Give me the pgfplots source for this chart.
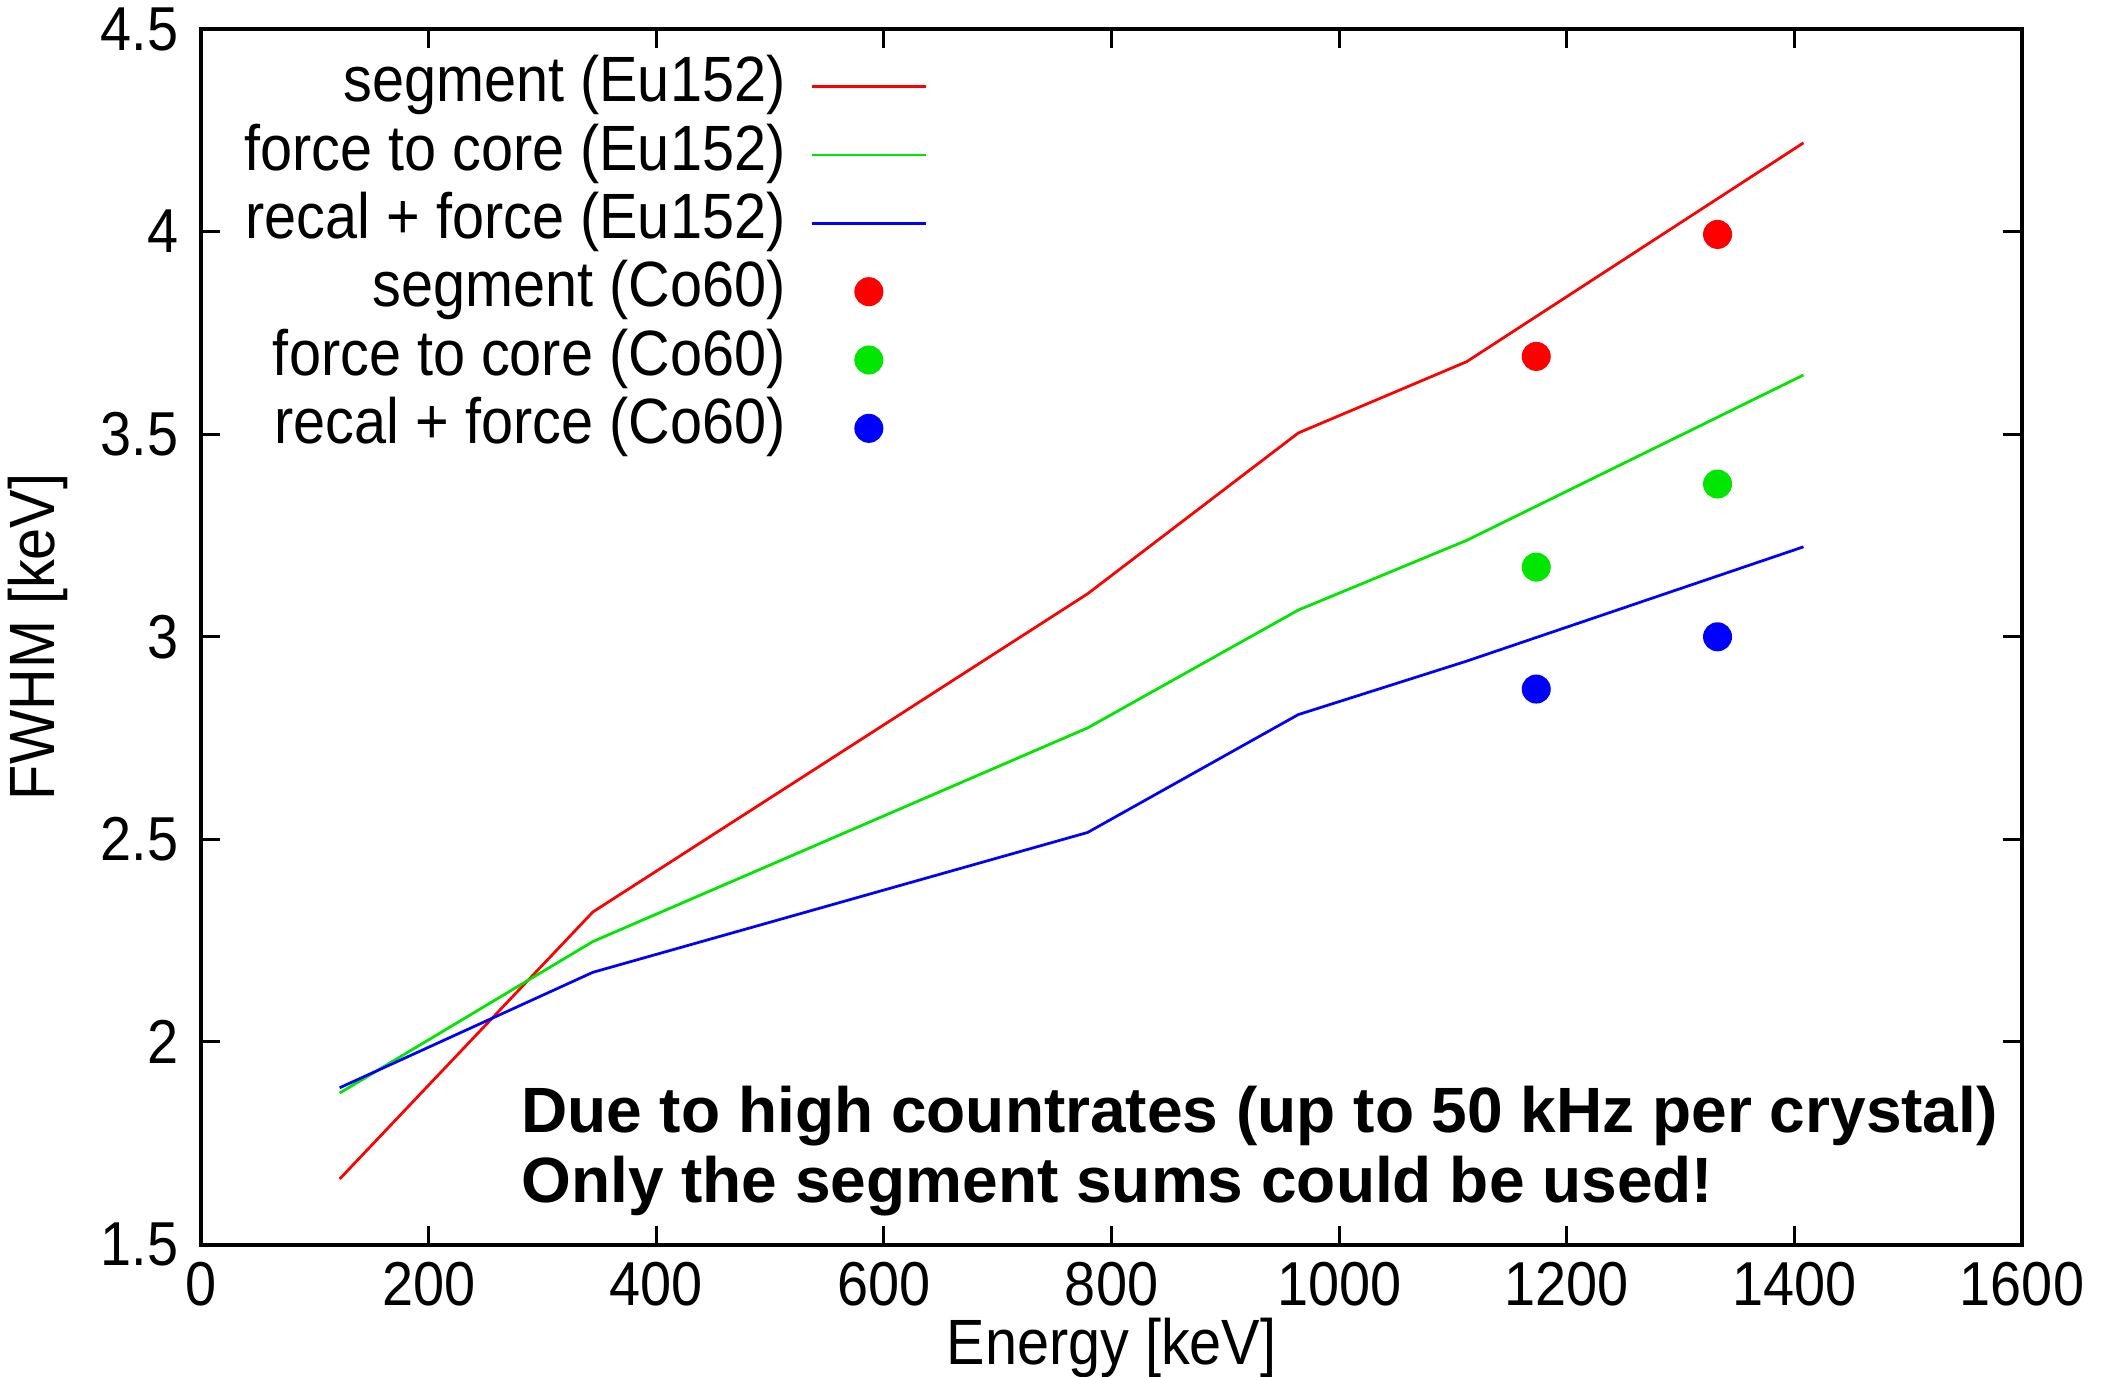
\documentclass[border=0pt]{standalone}
\usepackage{fontspec}
\setmainfont{Liberation Sans}
\newfontfamily\narrowfont[FakeStretch=0.9]{Liberation Sans}
\usepackage{pgfplots}
\pgfplotsset{compat=1.18}
\definecolor{gpred}{RGB}{255,0,0}
\definecolor{gpgreen}{RGB}{0,230,0}
\definecolor{gpblue}{RGB}{0,0,255}
\begin{document}
\begin{tikzpicture}
\begin{axis}[
  at={(0,0)}, anchor=south west,
  scale only axis, width=364pt, height=243pt,
  xmin=0, xmax=1600, ymin=1.5, ymax=4.5,
  xtick={0,200,...,1600}, ytick={1.5,2,2.5,3,3.5,4,4.5},
  scaled ticks=false,
  /pgf/number format/1000 sep={},
  /pgf/number format/assume math mode=true,
  tick label style={font=\narrowfont\fontsize{12.4}{14}\selectfont},
  yticklabel style={xshift=-1pt},
  major tick length=3.7pt,
  every tick/.style={black, line width=0.6pt},
  axis line style={line width=0.8pt},
  xlabel={Energy [keV]}, ylabel={FWHM [keV]},
  label style={font=\narrowfont\fontsize{12.8}{14}\selectfont},
  xlabel style={at={(axis description cs:0.5,0)}, anchor=center, yshift=-20.6pt},
  ylabel style={at={(axis description cs:-0.0898,0.5)}, anchor=center, rotate=0},
  legend plot pos=right,
  legend cell align=right,
  legend image code/.code={\draw[mark repeat=2,mark phase=2,#1] plot coordinates {(0pt,0pt) (11.4pt,0pt) (22.8pt,0pt)};},
  legend style={draw=none, fill=none, at={(axis description cs:0.4076,0.9863)}, anchor=north east,
    font=\narrowfont\fontsize{12.8}{14}\selectfont,
    nodes={inner sep=0pt, text height=9pt, text depth=3pt},
    row sep=1.66pt, column sep=5pt},
]
\addplot[gpred, line width=0.55pt] coordinates {(121.8,1.662) (344.3,2.321) (778.9,3.106) (964.1,3.503) (1112.1,3.679) (1408.0,4.219)};
\addlegendentry{segment (Eu152)}
\addplot[gpgreen, line width=0.55pt] coordinates {(121.8,1.874) (344.3,2.248) (778.9,2.775) (964.1,3.066) (1112.1,3.238) (1408.0,3.646)};
\addlegendentry{force to core (Eu152)}
\addplot[gpblue, line width=0.55pt] coordinates {(121.8,1.887) (344.3,2.172) (778.9,2.517) (964.1,2.808) (1112.1,2.940) (1408.0,3.222)};
\addlegendentry{recal + force (Eu152)}
\addplot[only marks, mark=*, mark size=2.7pt, gpred, mark options={draw=gpred, fill=gpred}] coordinates {(1173.2,3.692) (1332.5,3.993)};
\addlegendentry{segment (Co60)}
\addplot[only marks, mark=*, mark size=2.7pt, gpgreen, mark options={draw=gpgreen, fill=gpgreen}] coordinates {(1173.2,3.172) (1332.5,3.377)};
\addlegendentry{force to core (Co60)}
\addplot[only marks, mark=*, mark size=2.7pt, gpblue, mark options={draw=gpblue, fill=gpblue}] coordinates {(1173.2,2.871) (1332.5,3.000)};
\addlegendentry{recal + force (Co60)}
\node[anchor=base west, align=left, inner sep=0pt, font=\bfseries\fontsize{12.8}{14}\selectfont] at (axis description cs:0.1753,0.0346) {Due to high countrates (up to 50 kHz per crystal)\\Only the segment sums could be used!};
\end{axis}
\pgfresetboundingbox
\useasboundingbox (-40.2pt,-26.4pt) rectangle (379.8pt,248.8pt);
\end{tikzpicture}
\end{document}
